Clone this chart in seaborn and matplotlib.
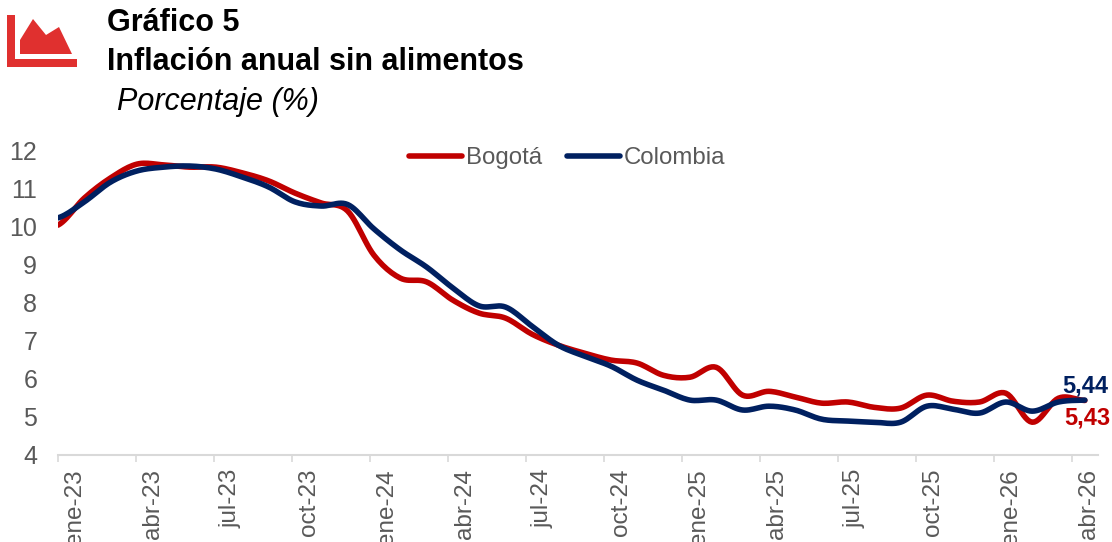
import numpy as np
import pandas as pd
import matplotlib
matplotlib.use("Agg")
import matplotlib.pyplot as plt
from matplotlib.patches import Polygon
import seaborn as sns

bogota = [10.03,10.74,11.27,11.63,11.61,11.55,11.55,11.40,11.19,10.87,10.61,10.40,9.24,8.64,8.54,8.06,7.72,7.59,7.17,6.88,
          6.67,6.49,6.41,6.09,6.04,6.30,5.57,5.67,5.52,5.36,5.39,5.25,5.23,5.57,5.41,5.39,5.62,4.86,5.49,5.43]
colombia = [10.22,10.64,11.16,11.45,11.55,11.58,11.50,11.29,11.03,10.64,10.53,10.57,9.93,9.38,8.93,8.38,7.91,7.88,7.38,6.88,
            6.59,6.33,5.96,5.70,5.44,5.44,5.18,5.28,5.18,4.94,4.89,4.86,4.86,5.28,5.20,5.10,5.39,5.15,5.39,5.44]
tick_labels = ["ene-23","abr-23","jul-23","oct-23","ene-24","abr-24","jul-24","oct-24",
               "ene-25","abr-25","jul-25","oct-25","ene-26","abr-26"]
series_names = ["Bogotá", "Colombia"]
y_ticks = [4,5,6,7,8,9,10,11,12]
label_bogota = "5,43"
label_colombia = "5,44"

RED = "#C00000"
NAVY = "#002060"
GRAY = "#595959"
W, H = 1112, 542

def smooth(values, n=12):
    """Smoothed-line rendering (Catmull-Rom), as the spreadsheet's smooth line option."""
    p = np.array(values, float)
    q = np.r_[p[0], p, p[-1]]
    xs, ys = [], []
    for i in range(len(p) - 1):
        t = np.linspace(0, 1, n, endpoint=False)
        a, b, c, d = q[i], q[i+1], q[i+2], q[i+3]
        ys.append(0.5*(2*b + (c-a)*t + (2*a-5*b+4*c-d)*t**2 + (3*b-a-3*c+d)*t**3))
        xs.append(i + t)
    return np.r_[np.concatenate(xs), len(p)-1], np.r_[np.concatenate(ys), p[-1]]

frames = []
for name, vals in zip(series_names, [bogota, colombia]):
    x, y = smooth(vals)
    frames.append(pd.DataFrame({"x": x, "y": y, "serie": name}))
df = pd.concat(frames, ignore_index=True)

sns.set_theme(style="white")
plt.rcParams["font.family"] = ["Liberation Sans", "DejaVu Sans"]

fig = plt.figure(figsize=(W/100, H/100), dpi=100)
ax = fig.add_axes([58/W, 1-455/H, (1098-58)/W, (455-150)/H])

sns.lineplot(data=df, x="x", y="y", hue="serie", palette=[RED, NAVY], sort=False,
             estimator=None, linewidth=4, ax=ax, solid_capstyle="round", solid_joinstyle="round")

n_slots = 39.5
px_per_slot = (1098-58)/n_slots
ax.set_xlim(0, n_slots)
ax.set_ylim(4, 12)
tick_pos = np.arange(len(tick_labels)) * 78 / px_per_slot
ax.set_xticks(tick_pos)
ax.set_xticklabels([""] * len(tick_labels))
ax.set_xticks(tick_pos + 17 / px_per_slot, minor=True)
ax.set_xticklabels(tick_labels, minor=True, rotation=90, fontsize=17.5, color=GRAY, va="top", ha="center")
ax.set_yticks(y_ticks)
ax.set_yticklabels([str(v) for v in y_ticks], fontsize=18, color=GRAY)
ax.set_xlabel("")
ax.set_ylabel("")
for s in ["top", "right", "left"]:
    ax.spines[s].set_visible(False)
ax.spines["bottom"].set_color("#D9D9D9")
ax.spines["bottom"].set_linewidth(1.5)
ax.tick_params(axis="x", which="major", length=5, width=1.2, color="#D9D9D9", bottom=True)
ax.tick_params(axis="x", which="minor", length=0, pad=10, bottom=True)
ax.tick_params(axis="y", length=0, pad=15)

leg = ax.legend(ncol=2, frameon=False, loc="center", bbox_to_anchor=((567-58)/1040, 1-(158-150)/305),
                fontsize=17.3, handlelength=2.2, handletextpad=0.15, columnspacing=1.05, labelcolor=GRAY,
                borderpad=0, borderaxespad=0)
for h in leg.get_lines():
    h.set_linewidth(4)
    h.set_solid_capstyle("round")

ax.text(39, 5.81, label_colombia, color=NAVY, fontsize=17, fontweight="bold", ha="center", va="center")
ax.text(39.1, 4.98, label_bogota, color=RED, fontsize=17, fontweight="bold", ha="center", va="center", clip_on=False)

fig.text(107/W, 1-23/H, "Gráfico 5", fontsize=22, fontweight="bold", color="black", va="center")
fig.text(107/W, 1-62/H, "Inflación anual sin alimentos", fontsize=22, fontweight="bold", color="black", va="center")
fig.text(117/W, 1-102/H, "Porcentaje (%)", fontsize=22, fontstyle="italic", color="black", va="center")

ICON = "#E0302F"
def px(points):
    return [(a/W, 1-b/H) for a, b in points]
fig.add_artist(Polygon(px([(7,15),(15,15),(15,59),(77,59),(77,67),(7,67)]), closed=True, color=ICON, lw=0, transform=fig.transFigure))
fig.add_artist(Polygon(px([(20,54),(20,40),(33,19),(46,35),(59,27),(72,54)]), closed=True, color=ICON, lw=0, transform=fig.transFigure))

fig.savefig("out.png", dpi=100)
